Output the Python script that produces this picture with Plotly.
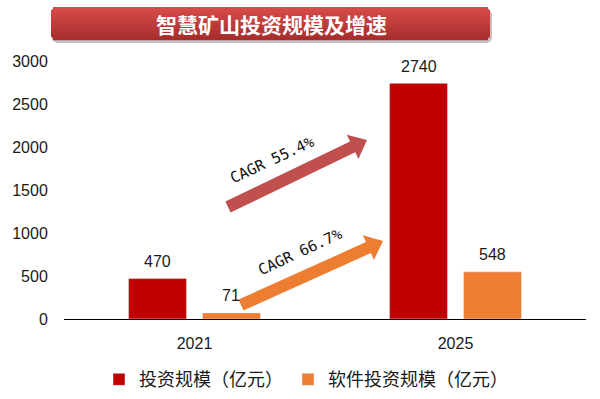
import math
import plotly.graph_objects as go

# ---- data ----
years = ["2021", "2025"]
invest = [470, 2740]
software = [71, 548]
series_names = ["投资规模（亿元）", "软件投资规模（亿元）"]
cagr_labels = ["CAGR 55.4%", "CAGR 66.7%"]
title_text = "智慧矿山投资规模及增速"
y_ticks = [0, 500, 1000, 1500, 2000, 2500, 3000]

RED = "#C00000"
ORANGE = "#ED7D31"
W, H = 600, 399
# plot area in pixels
PL, PR, PT, PB = 64, 586, 61, 319
BARGAP = 0.433
BARGROUPGAP = 0.216


def px2p(px, py):
    return (px - PL) / (PR - PL), (PB - py) / (PB - PT)


def path_from(pts):
    s = []
    for i, (x, y) in enumerate(pts):
        a, b = px2p(x, y)
        s.append(("M " if i == 0 else "L ") + f"{a:.5f},{b:.5f}")
    return " ".join(s) + " Z"


def rrect_pts(x0, x1, y0, y1, r, n=8):
    pts = []
    corners = [(x1 - r, y0 + r, -90, 0), (x1 - r, y1 - r, 0, 90),
               (x0 + r, y1 - r, 90, 180), (x0 + r, y0 + r, 180, 270)]
    for cx, cy, a0, a1 in corners:
        for i in range(n + 1):
            a = math.radians(a0 + (a1 - a0) * i / n)
            pts.append((cx + r * math.cos(a), cy + r * math.sin(a)))
    return pts


def arrow_pts(tail, tip, sw, hw, hl):
    tx, ty = tail
    hx, hy = tip
    L = math.hypot(hx - tx, hy - ty)
    ux, uy = (hx - tx) / L, (hy - ty) / L
    nx, ny = -uy, ux
    bx, by = hx - ux * hl, hy - uy * hl
    return [(tx + nx * sw / 2, ty + ny * sw / 2), (bx + nx * sw / 2, by + ny * sw / 2),
            (bx + nx * hw / 2, by + ny * hw / 2), (hx, hy),
            (bx - nx * hw / 2, by - ny * hw / 2), (bx - nx * sw / 2, by - ny * sw / 2),
            (tx - nx * sw / 2, ty - ny * sw / 2)]


def lerp_col(c0, c1, t):
    a = [int(c0[i:i + 2], 16) for i in (1, 3, 5)]
    b = [int(c1[i:i + 2], 16) for i in (1, 3, 5)]
    return "rgb(%d,%d,%d)" % tuple(round(a[k] + (b[k] - a[k]) * t) for k in range(3))


label_font = dict(family="Liberation Sans, Arial", size=16, color="#1a1a1a")

fig = go.Figure()
fig.add_trace(go.Bar(x=years, y=invest, name=series_names[0], marker_color=RED))
fig.add_trace(go.Bar(x=years, y=software, name=series_names[1], marker_color=ORANGE))

shapes = []
annotations = []

# ---- banner ----
bx0, bx1, by0, by1, r = 51, 490, 7, 40, 6
shapes.append(dict(type="path", xref="paper", yref="paper", layer="below",
                   path=path_from(rrect_pts(bx0 + 1, bx1 + 2, by0 + 2, by1 + 3, r)),
                   fillcolor="rgba(80,80,80,0.35)", line=dict(width=0)))
shapes.append(dict(type="path", xref="paper", yref="paper", layer="below",
                   path=path_from(rrect_pts(bx0, bx1, by0, by1, r)),
                   fillcolor="#C03A39", line=dict(width=0)))
N = 11
sh_h = (by1 - by0) / N
for i in range(N):
    ya, yb = by0 + i * sh_h, by0 + (i + 1) * sh_h
    yc = (ya + yb) / 2
    d = 0
    if yc < by0 + r:
        d = r - math.sqrt(max(r * r - (by0 + r - yc) ** 2, 0))
    elif yc > by1 - r:
        d = r - math.sqrt(max(r * r - (yc - (by1 - r)) ** 2, 0))
    pts = [(bx0 + d, ya), (bx1 - d, ya), (bx1 - d, yb + 0.3), (bx0 + d, yb + 0.3)]
    shapes.append(dict(type="path", xref="paper", yref="paper", layer="below",
                       path=path_from(pts), fillcolor=lerp_col("#D64B49", "#A82D2D", i / (N - 1)),
                       line=dict(width=0)))

tx, ty = px2p(271, 24.5)
annotations.append(dict(x=tx, y=ty, xref="paper", yref="paper", text="<b>" + title_text + "</b>",
                        showarrow=False, xanchor="center", yanchor="middle",
                        font=dict(family="Noto Sans CJK SC", size=21, color="white")))

# ---- CAGR arrows ----
arrows = [((228, 207), (367, 140), "#C0504D", (272, 160)),
          ((241, 305), (383, 241), ORANGE, (300, 252))]
for (tail, tip, col, tpos), lab in zip(arrows, cagr_labels):
    shapes.append(dict(type="path", xref="paper", yref="paper",
                       path=path_from(arrow_pts(tail, tip, 12, 27, 16)),
                       fillcolor=col, line=dict(width=0), layer="above"))
    ax, ay = px2p(*tpos)
    annotations.append(dict(x=ax, y=ay, xref="paper", yref="paper", text=lab,
                            showarrow=False, textangle=-25, xanchor="center", yanchor="middle",
                            font=dict(family="DejaVu Sans Mono", size=15, color="#111")))

# ---- bar value labels (category index positions) ----
cat_w = (PR - PL) / len(years)
off = (1 - BARGAP) * cat_w / 4
for vals, sign in ((invest, -1), (software, 1)):
    for idx, v in enumerate(vals):
        annotations.append(dict(x=idx, y=v, xref="x", yref="y", text=str(v), showarrow=False,
                                xanchor="center", yanchor="middle", yshift=17, xshift=sign * off,
                                font=label_font))

fig.update_layout(
    width=W, height=H,
    margin=dict(l=PL, r=W - PR, t=PT, b=H - PB, autoexpand=False),
    paper_bgcolor="white", plot_bgcolor="white",
    barmode="group", bargap=BARGAP, bargroupgap=BARGROUPGAP,
    font=dict(family="Liberation Sans, Arial", size=16, color="#1a1a1a"),
    xaxis=dict(type="category", range=[-0.5, len(years) - 0.5], autorange=False,
               showline=True, linecolor="black", linewidth=1,
               showgrid=False, zeroline=False, ticks="outside", ticklen=10,
               tickcolor="rgba(0,0,0,0)", tickfont=dict(size=16)),
    yaxis=dict(range=[0, 3000], autorange=False, tickvals=y_ticks,
               showgrid=False, zeroline=False, showline=False, ticks="outside",
               ticklen=12, tickcolor="rgba(0,0,0,0)", tickfont=dict(size=16)),
    legend=dict(orientation="h", x=(99 - PL) / (PR - PL), y=-0.235, xanchor="left",
                yanchor="middle",
                font=dict(family="Noto Sans CJK SC", size=18, color="#1a1a1a")),
    shapes=shapes, annotations=annotations,
    showlegend=True,
)

fig.write_html("out.html", config={"staticPlot": True},
               post_script="document.body.style.margin='0';")
